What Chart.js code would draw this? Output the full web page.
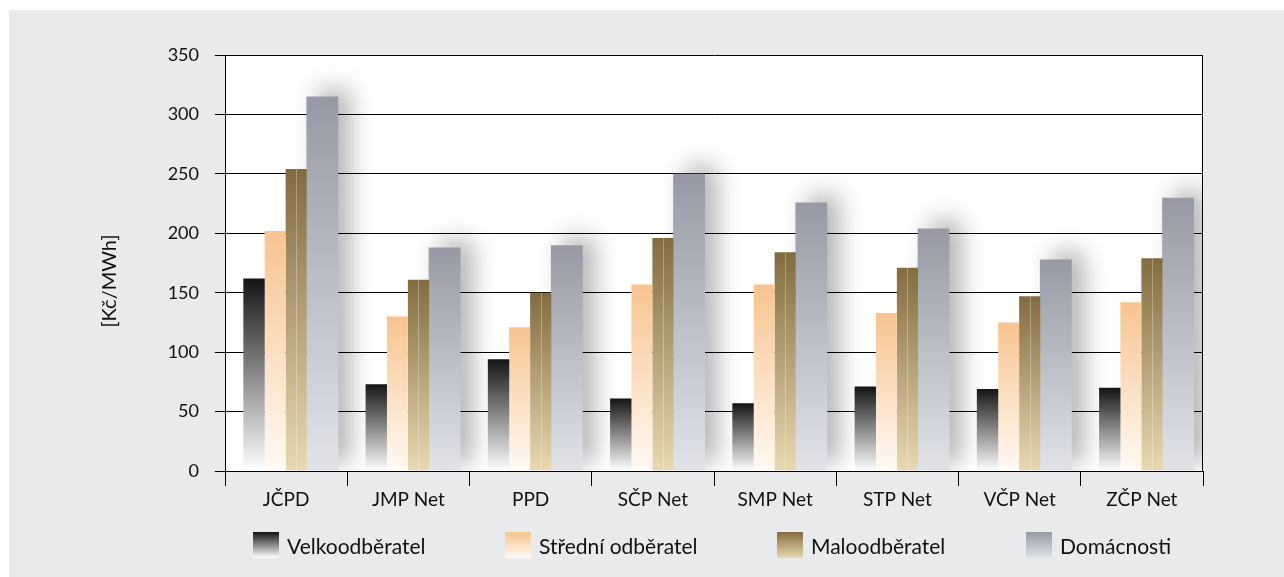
<!DOCTYPE html>
<html>
<head>
<meta charset="utf-8">
<script src="https://cdn.jsdelivr.net/npm/chart.js@4"></script>
<style>
  html, body { margin: 0; padding: 0; background: #ffffff; }
  #frame { position: absolute; left: 9px; top: 10px; width: 1275px; height: 567px; background: #e9eaec; }
  #chart { position: absolute; left: 0; top: 0; }
  #legend { position: absolute; left: 244px; top: 522px; display: grid; grid-template-columns: 252px 272px 249px auto;
            font-family: Lato, sans-serif; font-size: 21px; color: #111; }
  .item { display: flex; align-items: center; height: 26px; }
  .box { width: 26px; height: 26px; margin-right: 8px; flex: none; }
</style>
</head>
<body>
<div id="frame">
  <canvas id="chart" width="1275" height="567"></canvas>
  <div id="legend"></div>
</div>
<script>
// categories (distribution companies)
const categories = ['JČPD', 'JMP Net', 'PPD', 'SČP Net', 'SMP Net', 'STP Net', 'VČP Net', 'ZČP Net'];

// series values [Kč/MWh]
const velkoodberatel = [162, 73, 94, 61, 57, 71, 69, 70];
const stredniOdberatel = [202, 130, 121, 157, 157, 133, 125, 142];
const maloodberatel = [254, 161, 150, 196, 184, 171, 147, 179];
const domacnosti = [315, 188, 190, 250, 226, 204, 178, 230];

const seriesNames = ['Velkoodběratel', 'Střední odběratel', 'Maloodběratel', 'Domácnosti'];
const yTicks = [0, 50, 100, 150, 200, 250, 300, 350];
const yTitle = '[Kč/MWh]';

// top / bottom gradient colours per series
const gradTop = ['#141414', '#f7c48f', '#826c3f', '#979aa4'];
const gradBottom = ['#ffffff', '#fffaf4', '#e9d9b1', '#e1e3e9'];

Chart.defaults.font.family = 'Lato, sans-serif';
Chart.defaults.color = '#111';

function barGradient(i) {
    return (ctx) => {
        const chart = ctx.chart;
        const y = chart.scales && chart.scales.y;
        if (ctx.type !== 'data' || !y) return gradTop[i];
        const top = y.getPixelForValue(ctx.raw);
        const bottom = y.getPixelForValue(0);
        if (!isFinite(top) || !isFinite(bottom) || top === bottom) return gradTop[i];
        const g = chart.ctx.createLinearGradient(0, top, 0, bottom);
        g.addColorStop(0, gradTop[i]);
        g.addColorStop(1, gradBottom[i]);
        return g;
    };
}

// white plot area, right border and the unit label (sits a bit below the axis middle)
const plotArea = {
    id: 'plotArea',
    beforeDraw(chart) {
        const {ctx, chartArea: a} = chart;
        ctx.save();
        ctx.fillStyle = '#ffffff';
        ctx.fillRect(a.left, a.top, a.right - a.left, a.bottom - a.top);
        ctx.restore();
    },
    afterDraw(chart) {
        const {ctx, chartArea: a} = chart;
        ctx.save();
        ctx.strokeStyle = '#000';
        ctx.lineWidth = 1;
        ctx.beginPath();
        ctx.moveTo(Math.round(a.right) - 0.5, a.top);
        ctx.lineTo(Math.round(a.right) - 0.5, a.bottom);
        ctx.stroke();

        ctx.translate(101, 271);
        ctx.rotate(-Math.PI / 2);
        ctx.font = '20px Lato, sans-serif';
        ctx.fillStyle = '#111';
        ctx.textAlign = 'center';
        ctx.textBaseline = 'middle';
        ctx.fillText(yTitle, 0, 0);
        ctx.restore();
    }
};

// soft shadow behind the household bars, thin highlight on the small-customer bars
const barEffects = {
    id: 'barEffects',
    beforeDatasetsDraw(chart) {
        const {ctx, chartArea: a} = chart;
        const meta = chart.getDatasetMeta(3);
        ctx.save();
        ctx.beginPath();
        ctx.rect(a.left, a.top, a.right - a.left, a.bottom - a.top);
        ctx.clip();
        ctx.shadowColor = 'rgba(0,0,0,0.3)';
        ctx.shadowBlur = 24;
        ctx.shadowOffsetX = 5000 + 12;
        ctx.shadowOffsetY = -8;
        ctx.fillStyle = '#000';
        meta.data.forEach(bar => {
            const {x, y, base, width} = bar.getProps(['x', 'y', 'base', 'width'], true);
            ctx.fillRect(x - width / 2 - 5000, y, width, base - y);
        });
        ctx.restore();
    },
    afterDatasetsDraw(chart) {
        const ctx = chart.ctx;
        const meta = chart.getDatasetMeta(2);
        ctx.save();
        ctx.strokeStyle = 'rgba(255,255,255,0.3)';
        ctx.lineWidth = 1;
        meta.data.forEach(bar => {
            const {x, y, base} = bar.getProps(['x', 'y', 'base'], true);
            ctx.beginPath();
            ctx.moveTo(Math.round(x) + 0.5, y);
            ctx.lineTo(Math.round(x) + 0.5, base);
            ctx.stroke();
        });
        ctx.restore();
    }
};

// legend with gradient swatches
const legend = document.getElementById('legend');
seriesNames.forEach((name, i) => {
    const item = document.createElement('div');
    item.className = 'item';
    const box = document.createElement('span');
    box.className = 'box';
    box.style.background = 'linear-gradient(' + gradTop[i] + ', ' + gradBottom[i] + ')';
    const text = document.createElement('span');
    text.textContent = name;
    item.appendChild(box);
    item.appendChild(text);
    legend.appendChild(item);
});

const seriesData = [velkoodberatel, stredniOdberatel, maloodberatel, domacnosti];
// per-series slot sizing so the household bar comes out wider, like the original
const catPct = [0.70, 0.72, 0.66, 0.79];
const barPct = [1.0, 0.95, 1.05, 1.32];

new Chart(document.getElementById('chart'), {
    type: 'bar',
    data: {
        labels: categories,
        datasets: seriesData.map((d, i) => ({
            label: seriesNames[i],
            data: d,
            backgroundColor: barGradient(i),
            borderWidth: 0,
            categoryPercentage: catPct[i],
            barPercentage: barPct[i]
        }))
    },
    options: {
        responsive: false,
        animation: false,
        layout: { padding: { left: 85, top: 45, right: 81, bottom: 0 } },
        plugins: {
            legend: { display: false },
            tooltip: { enabled: false }
        },
        scales: {
            x: {
                offset: true,
                grid: { display: true, drawOnChartArea: false, drawTicks: true, tickLength: 15, color: '#000', lineWidth: 1 },
                border: { display: true, color: '#000', width: 1 },
                ticks: { font: { size: 19 }, color: '#111', padding: 2, maxRotation: 0 },
                afterFit(scale) { scale.height = 106; }
            },
            y: {
                min: 0,
                max: 350,
                afterBuildTicks(scale) { scale.ticks = yTicks.map(v => ({ value: v })); },
                grid: { color: '#000', lineWidth: 1, tickLength: 10, tickColor: '#000' },
                border: { display: true, color: '#000', width: 1 },
                ticks: { font: { size: 18 }, color: '#111', padding: 16 },
                afterFit(scale) { scale.width = 131; }
            }
        }
    },
    plugins: [plotArea, barEffects]
});
</script>
</body>
</html>
